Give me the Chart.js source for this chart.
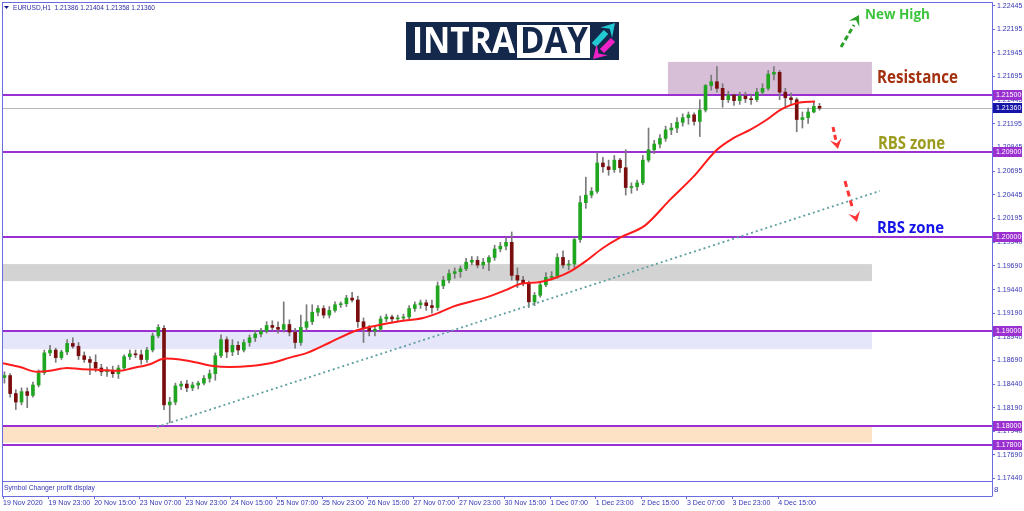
<!DOCTYPE html>
<html><head><meta charset="utf-8">
<script src="https://cdn.jsdelivr.net/npm/chart.js"></script>
<style>html,body{margin:0;padding:0;background:#fff;overflow:hidden}canvas{display:block}</style>
</head><body>
<canvas id="c" width="1024" height="511"></canvas>
<script>
// ---------- data ----------
const timeLabels = ["19 Nov 2020","19 Nov 23:00","20 Nov 15:00","23 Nov 07:00","23 Nov 23:00","24 Nov 15:00","25 Nov 07:00","25 Nov 23:00","26 Nov 15:00","27 Nov 07:00","27 Nov 23:00","30 Nov 15:00","1 Dec 07:00","1 Dec 23:00","2 Dec 15:00","3 Dec 07:00","3 Dec 23:00","4 Dec 15:00"];
const timeTickHours = [0,16,32,48,64,80,96,112,128,144,160,176,192,208,224,240,256,272];
const priceTicks = [1.22445,1.22195,1.21945,1.21695,1.21445,1.21195,1.20945,1.20695,1.20445,1.20195,1.19940,1.19690,1.19440,1.19190,1.18940,1.18690,1.18440,1.18190,1.17940,1.17690,1.17440];

// two-hour candles
const open = [1.1851,1.1853,1.1834,1.1825,1.1836,1.1832,1.1843,1.1856,1.1877,1.1880,
1.1872,1.1878,1.1887,1.1884,1.1874,1.1870,1.1867,1.1861,1.1857,1.1858,
1.1855,1.1861,1.1873,1.1876,1.1875,1.1870,1.1880,1.1895,1.1903,1.1822,
1.1825,1.1842,1.1844,1.1840,1.1843,1.1845,1.1850,1.1855,1.1874,1.1891,
1.1878,1.1885,1.1880,1.1888,1.1893,1.1897,1.1900,1.1906,1.1904,1.1902,
1.1907,1.1899,1.1888,1.1904,1.1910,1.1920,1.1924,1.1917,1.1922,1.1928,
1.1929,1.1935,1.1933,1.1910,1.1903,1.1900,1.1902,1.1913,1.1915,1.1913,
1.1914,1.1915,1.1924,1.1928,1.1930,1.1927,1.1925,1.1948,1.1954,1.1961,
1.1963,1.1966,1.1973,1.1975,1.1970,1.1973,1.1978,1.1987,1.1990,1.1994,
1.1959,1.1954,1.1951,1.1931,1.1938,1.1949,1.1957,1.1958,1.1978,1.1970,
1.1971,1.1997,1.2036,1.2044,1.2048,1.2078,1.2074,1.2071,1.2081,1.2073,
1.2052,1.2053,1.2057,1.2081,1.2092,1.2098,1.2104,1.2113,1.2115,1.2121,
1.2126,1.2129,1.2122,1.2134,1.2160,1.2164,1.2157,1.2145,1.2150,1.2144,
1.2149,1.2146,1.2145,1.2153,1.2157,1.2172,1.2174,1.2153,1.2147,1.2145,
1.2124,1.2126,1.2132,1.2138];
const high = [1.1857,1.1855,1.1838,1.1840,1.1840,1.1846,1.1859,1.1880,1.1885,1.1882,
1.1880,1.1891,1.1893,1.1888,1.1878,1.1873,1.1875,1.1865,1.1862,1.1863,
1.1864,1.1875,1.1880,1.1880,1.1880,1.1883,1.1898,1.1907,1.1906,1.1830,
1.1845,1.1847,1.1848,1.1846,1.1847,1.1853,1.1859,1.1877,1.1896,1.1894,
1.1891,1.1889,1.1891,1.1896,1.1901,1.1903,1.1910,1.1911,1.1910,1.1931,
1.1912,1.1903,1.1917,1.1928,1.1928,1.1927,1.1927,1.1926,1.1931,1.1931,
1.1938,1.1941,1.1937,1.1914,1.1906,1.1905,1.1916,1.1918,1.1917,1.1917,
1.1918,1.1927,1.1931,1.1933,1.1933,1.1933,1.1952,1.1958,1.1965,1.1967,
1.1969,1.1977,1.1979,1.1979,1.1977,1.1980,1.1991,1.1994,1.1999,1.2005,
1.1967,1.1958,1.1953,1.1941,1.1952,1.1962,1.1963,1.1982,1.1985,1.1975,
1.1999,1.2043,1.2063,1.2052,1.2089,1.2084,1.2081,1.2086,1.2083,1.2092,
1.2057,1.2060,1.2086,1.2115,1.2102,1.2108,1.2117,1.2120,1.2126,1.2130,
1.2132,1.2131,1.2145,1.2161,1.2171,1.2180,1.2162,1.2154,1.2151,1.2153,
1.2153,1.2150,1.2157,1.2162,1.2176,1.2180,1.2176,1.2157,1.2152,1.2147,
1.2132,1.2136,1.2143,1.2141];
const low = [1.1845,1.1830,1.1817,1.1822,1.1819,1.1830,1.1841,1.1854,1.1874,1.1867,
1.1870,1.1875,1.1882,1.1870,1.1867,1.1854,1.1857,1.1853,1.1852,1.1851,
1.1850,1.1859,1.1870,1.1872,1.1865,1.1867,1.1878,1.1893,1.1817,1.1803,
1.1822,1.1838,1.1836,1.1837,1.1839,1.1843,1.1846,1.1848,1.1872,1.1872,
1.1874,1.1875,1.1878,1.1884,1.1889,1.1894,1.1898,1.1901,1.1898,1.1899,
1.1895,1.1882,1.1885,1.1901,1.1907,1.1916,1.1914,1.1914,1.1920,1.1925,
1.1926,1.1931,1.1904,1.1888,1.1895,1.1895,1.1900,1.1910,1.1910,1.1910,
1.1911,1.1913,1.1921,1.1924,1.1922,1.1919,1.1922,1.1945,1.1951,1.1956,
1.1957,1.1964,1.1970,1.1967,1.1966,1.1964,1.1975,1.1984,1.1986,1.1954,
1.1946,1.1948,1.1925,1.1927,1.1936,1.1947,1.1954,1.1956,1.1967,1.1965,
1.1967,1.1994,1.2030,1.2041,1.2046,1.2068,1.2065,1.2068,1.2068,1.2044,
1.2046,1.2049,1.2055,1.2079,1.2088,1.2094,1.2101,1.2108,1.2110,1.2117,
1.2119,1.2118,1.2106,1.2132,1.2155,1.2153,1.2137,1.2142,1.2139,1.2140,
1.2142,1.2140,1.2143,1.2150,1.2155,1.2166,1.2145,1.2136,1.2140,1.2111,
1.2115,1.2120,1.2131,1.2134];
const close = [1.1853,1.1834,1.1825,1.1836,1.1832,1.1843,1.1856,1.1877,1.1880,1.1872,
1.1878,1.1887,1.1884,1.1874,1.1870,1.1867,1.1861,1.1857,1.1858,1.1855,
1.1861,1.1873,1.1876,1.1875,1.1870,1.1880,1.1895,1.1904,1.1822,1.1825,
1.1842,1.1844,1.1840,1.1843,1.1845,1.1850,1.1855,1.1874,1.1891,1.1878,
1.1885,1.1880,1.1888,1.1893,1.1897,1.1900,1.1906,1.1904,1.1902,1.1907,
1.1899,1.1888,1.1904,1.1910,1.1920,1.1924,1.1917,1.1922,1.1928,1.1929,
1.1935,1.1933,1.1910,1.1903,1.1900,1.1902,1.1913,1.1915,1.1913,1.1914,
1.1915,1.1924,1.1928,1.1930,1.1927,1.1925,1.1948,1.1954,1.1961,1.1963,
1.1966,1.1973,1.1975,1.1970,1.1973,1.1978,1.1987,1.1990,1.1994,1.1959,
1.1954,1.1951,1.1931,1.1938,1.1949,1.1957,1.1958,1.1978,1.1970,1.1971,
1.1997,1.2036,1.2044,1.2048,1.2078,1.2074,1.2071,1.2081,1.2073,1.2052,
1.2053,1.2057,1.2081,1.2092,1.2098,1.2104,1.2113,1.2115,1.2121,1.2126,
1.2129,1.2122,1.2134,1.2160,1.2164,1.2157,1.2145,1.2150,1.2144,1.2149,
1.2146,1.2145,1.2153,1.2157,1.2172,1.2174,1.2153,1.2147,1.2145,1.2124,
1.2126,1.2132,1.2138,1.2136];

// moving average (x in hours from first bar)
const maX = [0,6.0,11.9,16.5,22.5,27.0,34.0,41.1,45.6,51.6,56.8,62.1,69.1,73.7,79.6,86.7,93.7,100.7,106.7,114.7,124.2,131.2,138.2,147.4,153.3,157.9,169.8,176.8,181.4,188.4,194.4,198.9,204.9,210.5,216.5,225.3,234.0,242.1,250.5,256.1,262.1,268.1,272.6,276.1,279.6,284.9];
const maY = [1.1866,1.1862,1.1857,1.1858,1.1861,1.1860,1.1859,1.1858,1.1861,1.1865,1.1871,1.1870,1.1866,1.1863,1.1862,1.1863,1.1866,1.1872,1.1877,1.1888,1.1901,1.1906,1.1910,1.1914,1.1920,1.1926,1.1936,1.1944,1.1950,1.1952,1.1957,1.1963,1.1975,1.1988,1.1999,1.2012,1.2039,1.2063,1.2092,1.2104,1.2113,1.2124,1.2134,1.2139,1.2142,1.2143];

// trend line end points
const trendX = [54.0, 307.7];
const trendY = [1.17986, 1.20484];

// horizontal levels and zones
const levels = [1.2150, 1.2090, 1.2000, 1.1900, 1.1800, 1.1780];
const lastPrice = 1.21360;
const zoneTop = [1.2185, 1.1971, 1.1900, 1.1800];
const zoneBottom = [1.2151, 1.1953, 1.1881, 1.1782];
const zoneStart = [233.3, -0.4, -0.4, -0.4];
const zoneEnd = [304.9, 304.9, 304.9, 304.9];
const zoneColors = ['#d8bfd8', '#d3d3d3', '#e6e6fa', '#fde2c6'];

// ---------- styles ----------
const FRAME = '#6b6be0';
const AXTXT = '#3535b5';
const LEVEL = '#9b30d0';
const AXFONT = 'Liberation Sans';

const candleX = open.map((_, i) => 2 * i + 0.5);
const wickData = open.map((_, i) => ({x: candleX[i], y: [low[i], high[i]]}));
const bodyData = open.map((o, i) => ({x: candleX[i], y: [Math.min(o, close[i]), Math.max(o, close[i])]}));
const bodyColors = open.map((o, i) => close[i] >= o ? '#1fa51f' : '#7a0d0d');
const maData = maX.map((v, i) => ({x: v, y: maY[i]}));
const trendData = trendX.map((v, i) => ({x: v, y: trendY[i]}));

function fitText(ctx, txt, x, yb, w, font, color) {
  ctx.save();
  ctx.font = font; ctx.fillStyle = color; ctx.textAlign = 'left'; ctx.textBaseline = 'alphabetic';
  const m = ctx.measureText(txt).width;
  ctx.translate(x, yb); ctx.scale(w / m, 1); ctx.fillText(txt, 0, 0);
  ctx.restore();
}
function seg(ctx, x1, y1, x2, y2) { ctx.beginPath(); ctx.moveTo(x1, y1); ctx.lineTo(x2, y2); ctx.stroke(); }
function arrowHead(ctx, tx, ty, ang, size, color) {
  ctx.save(); ctx.translate(tx, ty); ctx.rotate(ang); ctx.fillStyle = color;
  ctx.beginPath(); ctx.moveTo(0, 0); ctx.lineTo(-size, -size * 0.6); ctx.lineTo(-size * 0.6, 0); ctx.lineTo(-size, size * 0.6); ctx.closePath(); ctx.fill();
  ctx.restore();
}
function dashedArrow(ctx, x1, y1, x2, y2, tx, ty, color, dash) {
  ctx.save(); ctx.strokeStyle = color; ctx.lineWidth = 3; ctx.setLineDash(dash); seg(ctx, x1, y1, x2, y2); ctx.restore();
  arrowHead(ctx, tx, ty, Math.atan2(ty - y1, tx - x1), 10, color);
}

const deco = {
  id: 'deco',
  beforeDatasetsDraw(chart) {
    const {ctx, chartArea: a, scales: {x, y}} = chart;
    ctx.save();
    for (let i = 0; i < zoneTop.length; i++) {
      const x0 = Math.max(a.left, x.getPixelForValue(zoneStart[i]));
      const x1 = x.getPixelForValue(zoneEnd[i]);
      const y0 = y.getPixelForValue(zoneTop[i]), y1 = y.getPixelForValue(zoneBottom[i]);
      ctx.fillStyle = zoneColors[i];
      ctx.fillRect(x0, y0, x1 - x0, y1 - y0);
    }
    ctx.strokeStyle = '#b8b8b8'; ctx.lineWidth = 1;
    const yc = Math.round(y.getPixelForValue(lastPrice)) + 0.5;
    seg(ctx, a.left, yc, a.right, yc);
    ctx.strokeStyle = LEVEL; ctx.lineWidth = 2;
    levels.forEach(v => { const yy = Math.round(y.getPixelForValue(v)); seg(ctx, a.left, yy, a.right, yy); });
    ctx.restore();
  },
  afterDraw(chart) {
    const {ctx, chartArea: a, scales: {x, y}} = chart;
    ctx.save();
    // sub window
    ctx.fillStyle = '#fff';
    ctx.fillRect(a.left + 1, a.bottom + 1, a.right - a.left - 1, 14);
    ctx.strokeStyle = FRAME; ctx.lineWidth = 1;
    seg(ctx, a.left, a.bottom + 0.5, a.right, a.bottom + 0.5);
    seg(ctx, a.left, a.bottom + 15.5, a.right, a.bottom + 15.5);
    seg(ctx, a.left + 0.5, a.top, a.left + 0.5, a.bottom + 15.5);
    seg(ctx, a.left, a.top + 0.5, a.right, a.top + 0.5);
    seg(ctx, a.right + 0.5, a.top, a.right + 0.5, a.bottom + 15.5);
    fitText(ctx, 'Symbol Changer profit display', 4, a.bottom + 9, 91, '7px "' + AXFONT + '"', AXTXT);
    ctx.font = '8px "' + AXFONT + '"'; ctx.fillStyle = AXTXT; ctx.textBaseline = 'middle';
    ctx.fillText('8', a.right + 2, a.bottom + 9);
    // header
    ctx.fillStyle = '#1a1a90';
    ctx.beginPath(); ctx.moveTo(4, 6); ctx.lineTo(9, 6); ctx.lineTo(6.5, 9); ctx.closePath(); ctx.fill();
    fitText(ctx, 'EURUSD,H1  1.21386 1.21404 1.21358 1.21360', 13, 10, 142, '7.5px "' + AXFONT + '"', '#2e2ea6');
    // price labels on axis
    ctx.font = '7px "' + AXFONT + '"'; ctx.textBaseline = 'middle'; ctx.textAlign = 'left';
    const lab = (v, bg) => {
      const yy = Math.round(y.getPixelForValue(v));
      ctx.fillStyle = bg; ctx.fillRect(a.right + 1, yy - 5, 29, 10);
      ctx.fillStyle = '#fff'; ctx.fillText(v.toFixed(5), a.right + 4, yy + 0.5);
    };
    levels.forEach(v => lab(v, LEVEL));
    lab(lastPrice, '#1414a8');
    // annotations
    fitText(ctx, 'New High', 865, 19, 65, 'bold 15px "Open Sans"', '#3cc43c');
    fitText(ctx, 'Resistance', 877, 83, 81, 'bold 18px "Open Sans"', '#a3300e');
    fitText(ctx, 'RBS zone', 878, 149, 67, 'bold 17px "Open Sans"', '#9b9b1f');
    fitText(ctx, 'RBS zone', 877, 233, 67, 'bold 16px "Open Sans"', '#1414e8');
    dashedArrow(ctx, 841, 47, 854, 25, 859, 15, '#2aa02a', [5, 3]);
    dashedArrow(ctx, 833, 127, 836, 141, 838, 149, '#ff3535', [5, 3]);
    dashedArrow(ctx, 845, 181, 853, 210, 857, 222, '#ff3535', [6, 4]);
    // logo
    ctx.fillStyle = '#14284b'; ctx.fillRect(406, 22, 213, 38);
    ctx.fillStyle = '#ffffff'; ctx.fillRect(517, 25, 73, 33);
    fitText(ctx, 'INTRA', 412, 53, 103, 'bold 35px "Open Sans"', '#ffffff');
    fitText(ctx, 'DAY', 520, 53, 68, 'bold 35px "Open Sans"', '#14284b');
    ctx.lineWidth = 6; ctx.setLineDash([]);
    ctx.strokeStyle = '#22c9d3'; seg(ctx, 594, 45, 606, 32);
    arrowHead(ctx, 615, 23, Math.atan2(-21, 19), 13, '#22c9d3');
    ctx.strokeStyle = '#ee22c6'; seg(ctx, 613, 40, 602, 51);
    arrowHead(ctx, 593, 59, Math.atan2(18, -18), 13, '#ee22c6');
    ctx.restore();
  }
};

new Chart(document.getElementById('c'), {
  type: 'bar',
  data: {
    datasets: [
      {type: 'line', data: maData, borderColor: '#ff1c1c', borderWidth: 2, pointRadius: 0, cubicInterpolationMode: 'monotone', order: 0},
      {type: 'line', data: trendData, borderColor: '#5f9fa2', borderWidth: 1.8, borderDash: [2, 3], pointRadius: 0, order: 1},
      {data: bodyData, backgroundColor: bodyColors, barThickness: 3, grouped: false, minBarLength: 1, order: 2},
      {data: wickData, backgroundColor: '#7a7a7a', barThickness: 1, grouped: false, order: 3}
    ]
  },
  options: {
    responsive: false, animation: false, devicePixelRatio: 1,
    layout: {padding: {left: 2, top: 2, right: 0, bottom: 0}},
    plugins: {legend: {display: false}, tooltip: {enabled: false}},
    scales: {
      x: {
        type: 'linear', min: -0.351, max: 347.02, offset: false,
        afterBuildTicks: s => { s.ticks = timeTickHours.map(v => ({value: v})); },
        afterFit: s => { s.height = 30; s.paddingLeft = 0; s.paddingRight = 0; },
        ticks: {autoSkip: false, maxRotation: 0, minRotation: 0, align: 'start', padding: 0, color: AXTXT,
          font: {family: AXFONT, size: 7}, callback: (v, i) => timeLabels[i]},
        grid: {drawOnChartArea: false, drawTicks: true, tickLength: 18, color: FRAME, offset: false},
        border: {display: true, color: FRAME}
      },
      y: {
        position: 'right', min: 1.17414, max: 1.22484,
        afterBuildTicks: s => { s.ticks = priceTicks.map(v => ({value: v})); },
        afterFit: s => { s.width = 32; s.paddingTop = 0; s.paddingBottom = 0; },
        ticks: {padding: 2, color: AXTXT, font: {family: AXFONT, size: 7}, callback: v => Number(v).toFixed(5)},
        grid: {drawOnChartArea: false, drawTicks: true, tickLength: 3, color: FRAME},
        border: {display: true, color: FRAME}
      }
    }
  },
  plugins: [deco]
});
</script>
</body></html>
